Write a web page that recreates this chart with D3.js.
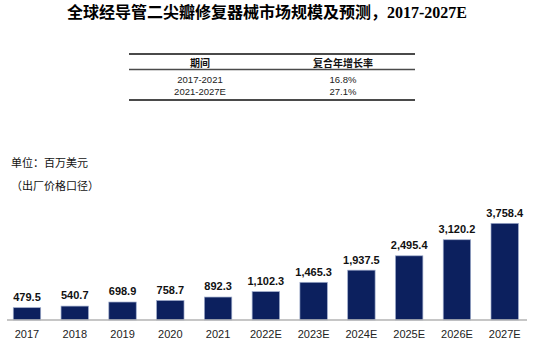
<!DOCTYPE html>
<html>
<head>
<meta charset="utf-8">
<script src="https://cdn.jsdelivr.net/npm/d3@7"></script>
<style>
  html, body { margin: 0; padding: 0; background: #fff; }
  svg { display: block; }
</style>
</head>
<body>
<svg id="chart" width="539" height="344"></svg>
<script>
// ---- data ----
const categories = ["2017", "2018", "2019", "2020", "2021", "2022E", "2023E", "2024E", "2025E", "2026E", "2027E"];
const values = [479.5, 540.7, 698.9, 758.7, 892.3, 1102.3, 1465.3, 1937.5, 2495.4, 3120.2, 3758.4];
const valueLabels = ["479.5", "540.7", "698.9", "758.7", "892.3", "1,102.3", "1,465.3", "1,937.5", "2,495.4", "3,120.2", "3,758.4"];
const titleCn = "全球经导管二尖瓣修复器械市场规模及预测，";
const titleEn = "2017-2027E";
const tableHeader = ["期间", "复合年增长率"];
const tablePeriods = ["2017-2021", "2021-2027E"];
const tableCagr = ["16.8%", "27.1%"];
const unitLines = ["单位：百万美元", "（出厂价格口径）"];

const cjk = "'Noto Sans CJK SC', 'Noto Sans', sans-serif";
const latin = "'Liberation Sans', Arial, sans-serif";
const serif = "'Liberation Serif', 'Times New Roman', serif";

const svg = d3.select("#chart");

// ---- title ----
const title = svg.append("text")
  .attr("x", 67).attr("y", 18)
  .attr("fill", "#000").attr("font-weight", 700);
title.append("tspan").attr("font-family", cjk).attr("font-size", 16).text(titleCn);
title.append("tspan").attr("font-family", serif).attr("font-size", 16).text(titleEn);

// ---- CAGR table ----
const tblX0 = 129, tblX1 = 415;
const colCenters = [200, 343];
[[54, 1.8], [69.5, 1.6], [100, 1.8]].forEach(([y, w]) => {
  svg.append("line").attr("x1", tblX0).attr("x2", tblX1)
    .attr("y1", y).attr("y2", y)
    .attr("stroke", "#4a4a4a").attr("stroke-width", w);
});
tableHeader.forEach((h, i) => {
  svg.append("text").attr("x", colCenters[i]).attr("y", 66.5)
    .attr("text-anchor", "middle").attr("font-family", cjk)
    .attr("font-weight", 700).attr("font-size", 10).attr("fill", "#111").text(h);
});
const rowY = [83, 95];
tablePeriods.forEach((p, i) => {
  svg.append("text").attr("x", colCenters[0]).attr("y", rowY[i])
    .attr("text-anchor", "middle").attr("font-family", latin)
    .attr("font-size", 9.5).attr("fill", "#222").text(p);
  svg.append("text").attr("x", colCenters[1]).attr("y", rowY[i])
    .attr("text-anchor", "middle").attr("font-family", latin)
    .attr("font-size", 9.5).attr("fill", "#222").text(tableCagr[i]);
});

// ---- unit labels ----
unitLines.forEach((t, i) => {
  svg.append("text").attr("x", 11).attr("y", i === 0 ? 167 : 190)
    .attr("font-family", cjk).attr("font-size", 11).attr("fill", "#111").text(t);
});

// ---- bars ----
const x = d3.scaleBand().domain(categories)
  .range([3.1, 528.6]).paddingInner(0.426).paddingOuter(0.213);
const y = d3.scaleLinear().domain([0, 3888]).range([320, 220]);

const data = categories.map((c, i) => ({ c, v: values[i], l: valueLabels[i] }));

svg.append("g").selectAll("rect").data(data).join("rect")
  .attr("x", d => x(d.c)).attr("width", x.bandwidth())
  .attr("y", d => y(d.v)).attr("height", d => y(0) - y(d.v))
  .attr("fill", "#0c205e").attr("stroke", "#9eabcb").attr("stroke-width", 0.7);

svg.append("g").selectAll("text").data(data).join("text")
  .attr("x", d => x(d.c) + x.bandwidth() / 2)
  .attr("y", d => y(d.v) - 6.6)
  .attr("text-anchor", "middle").attr("font-family", latin)
  .attr("font-weight", 700).attr("font-size", 11).attr("fill", "#111")
  .text(d => d.l);

// ---- x axis ----
const axis = svg.append("g").attr("transform", "translate(0,320)")
  .call(d3.axisBottom(x).tickSize(0).tickPadding(10));
axis.select(".domain").attr("d", "M7,0H527").attr("stroke", "#b3b3b3").attr("stroke-width", 1.5);
axis.selectAll("text").attr("font-family", latin).attr("font-size", 11).attr("fill", "#222");
</script>
</body>
</html>
